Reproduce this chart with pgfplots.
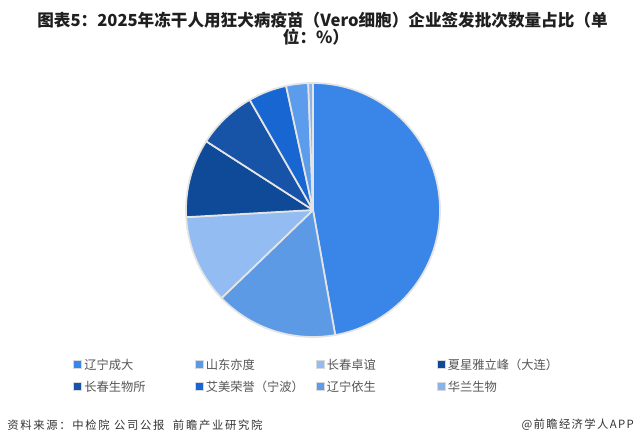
\documentclass[border=0pt]{standalone}
\usepackage{pgfplots}
\pgfplotsset{compat=1.18}
\usepackage{fontspec}
\setmainfont{Noto Sans CJK SC}
\definecolor{c1}{HTML}{3A86E8}
\definecolor{c2}{HTML}{5D9AE6}
\definecolor{c3}{HTML}{93BCF2}
\definecolor{c4}{HTML}{0F4A98}
\definecolor{c5}{HTML}{1754A8}
\definecolor{c6}{HTML}{1766D1}
\definecolor{c7}{HTML}{5C9CEC}
\definecolor{c8}{HTML}{8AB3EA}
\definecolor{sep}{HTML}{E4E4E4}
\definecolor{txt}{HTML}{555555}
% shares (%), clockwise from 12 o'clock:
% 辽宁成大 47.2, 山东亦度 15.6, 长春卓谊 11.3, 夏星雅立峰（大连）10.0,
% 长春生物所 7.6, 艾美荣誉（宁波）4.9, 辽宁依生 2.8, 华兰生物 0.6
\newcommand{\slice}[4]{%
  \addplot[fill=#3, draw=sep, line width=1.3pt, line join=round, domain=#1:#2, samples=#4]
    ({cos(90-3.6*x)},{sin(90-3.6*x)}) -- (axis cs:0,0) -- cycle;}
\begin{document}
\begin{tikzpicture}[x=0.75pt,y=-0.75pt]
\path[use as bounding box] (0,0) rectangle (637,447);
\coordinate (pc) at (313,210);
\begin{axis}[at={(pc)}, anchor=center, scale only axis, width=190.5pt, height=190.5pt,
  xmin=-1, xmax=1, ymin=-1, ymax=1, hide axis, clip=false]
\slice{0}{47.2}{c1}{90}
\slice{47.2}{62.8}{c2}{30}
\slice{62.8}{74.1}{c3}{24}
\slice{74.1}{84.1}{c4}{20}
\slice{84.1}{91.7}{c5}{16}
\slice{91.7}{96.6}{c6}{10}
\slice{96.6}{99.4}{c7}{6}
\slice{99.4}{100}{c8}{3}
\end{axis}
% title
\node[font=\fontsize{12.45}{14}\selectfont\bfseries, text=black!88, anchor=center] at (322.5,20.5)
  {图表5：2025年冻干人用狂犬病疫苗（Vero细胞）企业签发批次数量占比（单};
\node[font=\fontsize{12.45}{14}\selectfont\bfseries, text=black!88, anchor=center] at (316,37)
  {位：\%）};
% legend
\def\legitem#1#2#3#4{%
  \fill[#3] (#1-4,#2-3.5) rectangle (#1+3,#2+3.5);
  \draw[black!15, line width=0.6pt] (#1-4.5,#2-4) rectangle (#1+3.5,#2+4);
  \node[anchor=west, inner sep=0pt, text=txt, font=\fontsize{9.2}{11}\selectfont] at (#1+6,#2) {#4};}
\legitem{78}{364.5}{c1}{辽宁成大}
\legitem{199.5}{364.5}{c2}{山东亦度}
\legitem{320.5}{364.5}{c3}{长春卓谊}
\legitem{441.5}{364.5}{c4}{夏星雅立峰（大连）}
\legitem{78}{386.5}{c5}{长春生物所}
\legitem{199.5}{386.5}{c6}{艾美荣誉（宁波）}
\legitem{320.5}{386.5}{c7}{辽宁依生}
\legitem{441.5}{386.5}{c8}{华兰生物}
% footer
\node[anchor=west, inner sep=0pt, text=black!80, font=\fontsize{8.5}{11}\selectfont\addfontfeature{LetterSpace=15}] at (7,425)
  {资料来源：中检院 公司公报\ \ 前瞻产业研究院};
\node[anchor=east, inner sep=0pt, text=black!80, font=\fontsize{8.5}{11}\selectfont\addfontfeature{LetterSpace=12}] at (634,425)
  {@前瞻经济学人APP};
\end{tikzpicture}
\end{document}
